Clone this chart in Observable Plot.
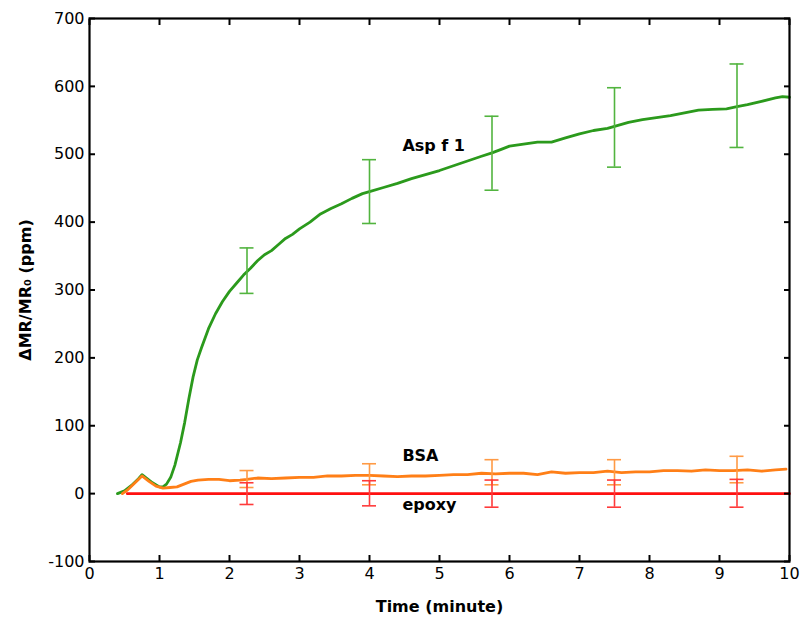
<!DOCTYPE html>
<html>
<head>
<meta charset="utf-8">
<script src="https://cdn.jsdelivr.net/npm/d3@7"></script>
<script src="https://cdn.jsdelivr.net/npm/@observablehq/plot@0.6"></script>
<style>
  html, body { margin: 0; padding: 0; background: #fff; }
  #chart svg { display: block; }
  g[aria-label="x-axis label"] text, g[aria-label="y-axis label"] text { font-weight: bold; }
</style>
</head>
<body>
<div id="chart"></div>
<script>
// Asp f 1 (green)
const aspT = [0.40,0.50,0.60,0.70,0.75,0.80,0.90,1.00,1.05,1.10,1.16,1.22,1.30,1.36,1.42,1.48,1.54,1.60,1.70,1.80,1.90,2.00,2.10,2.20,2.30,2.40,2.50,2.60,2.70,2.80,2.90,3.00,3.15,3.30,3.45,3.60,3.75,3.90,4.00,4.20,4.40,4.60,4.80,5.00,5.20,5.40,5.60,5.75,5.90,6.00,6.20,6.40,6.60,6.80,7.00,7.20,7.40,7.50,7.70,7.90,8.10,8.30,8.50,8.70,8.90,9.10,9.25,9.40,9.60,9.80,9.90,10.0];
const aspV = [0,4,12,22,28,24,16,10,10,14,24,42,75,105,140,172,197,215,243,265,283,298,310,322,332,343,352,358,367,376,382,390,400,412,420,427,435,442,445,451,457,464,470,476,483,490,497,502,508,512,515,518,518,524,530,535,538,541,547,551,554,557,561,565,566,567,570,573,578,583,585,584];
// BSA (orange)
const bsaT = [0.47,0.55,0.65,0.75,0.85,0.95,1.05,1.15,1.25,1.35,1.45,1.55,1.70,1.85,2.00,2.15,2.25,2.40,2.60,2.80,3.00,3.20,3.40,3.60,3.80,4.00,4.20,4.40,4.60,4.80,5.00,5.20,5.40,5.60,5.80,6.00,6.20,6.40,6.60,6.80,7.00,7.20,7.40,7.60,7.80,8.00,8.20,8.40,8.60,8.80,9.00,9.20,9.40,9.60,9.80,9.95];
const bsaV = [0,6,16,26,18,11,8,9,10,14,18,20,21,21,19,20,21,23,22,23,24,24,26,26,27,27,26,25,26,26,27,28,28,30,29,30,30,28,32,30,31,31,33,31,32,32,34,34,33,35,34,34,35,33,35,36];
// epoxy (red)
const epoxyT = [0.54, 10];
const epoxyV = [0, 0];
// error bars
const errT = [2.25, 4, 5.75, 7.5, 9.25];
const aspLo = [295, 398, 447, 481, 510];
const aspHi = [362, 492, 556, 598, 633];
const bsaLo = [9, 13, 13, 13, 16];
const bsaHi = [34, 44, 50, 50, 55];
const epoxyLo = [-16, -18, -20, -20, -20];
const epoxyHi = [16, 19, 20, 20, 21];
// labels
const labelNames = ["Asp f 1", "BSA", "epoxy"];
const labelT = [4.47, 4.47, 4.47];
const labelV = [512, 56, -17];
const xTicks = [0,1,2,3,4,5,6,7,8,9,10];
const yTicks = [-100,0,100,200,300,400,500,600,700];

const GREEN = "#2b9a1c", ORANGE = "#ff7f17", RED = "#ff1010";
const GREEN_E = "#52b43f", ORANGE_E = "#ff9a45", RED_E = "#ff3a3a";

const asp = aspT.map((t, i) => ({t, v: aspV[i]}));
const bsa = bsaT.map((t, i) => ({t, v: bsaV[i]}));
const epoxy = epoxyT.map((t, i) => ({t, v: epoxyV[i]}));
function errs(lo, hi) { return errT.map((t, i) => ({t, lo: lo[i], hi: hi[i]})); }
const errSets = [[errs(aspLo, aspHi), GREEN_E], [errs(bsaLo, bsaHi), ORANGE_E], [errs(epoxyLo, epoxyHi), RED_E]];
const labels = labelNames.map((name, i) => ({name, t: labelT[i], v: labelV[i]}));

const errMarks = [];
for (const [data, color] of errSets) {
  errMarks.push(Plot.ruleX(data, {x: "t", y1: "lo", y2: "hi", stroke: color, strokeWidth: 1.6}));
  errMarks.push(Plot.ruleY(data, {y: "lo", x1: "t", x2: "t", insetLeft: -7, insetRight: -7, stroke: color, strokeWidth: 1.6}));
  errMarks.push(Plot.ruleY(data, {y: "hi", x1: "t", x2: "t", insetLeft: -7, insetRight: -7, stroke: color, strokeWidth: 1.6}));
}

const chart = Plot.plot({
  width: 804,
  height: 627,
  marginLeft: 89,
  marginRight: 15,
  marginTop: 18,
  marginBottom: 66,
  style: {fontFamily: "'DejaVu Sans', Verdana, sans-serif", fontSize: "16px", color: "#000", background: "#fff"},
  x: {domain: [0, 10]},
  y: {domain: [-100, 700]},
  marks: [
    Plot.line(asp, {x: "t", y: "v", stroke: GREEN, strokeWidth: 2.8}),
    Plot.line(bsa, {x: "t", y: "v", stroke: ORANGE, strokeWidth: 2.8}),
    Plot.line(epoxy, {x: "t", y: "v", stroke: RED, strokeWidth: 2.8}),
    ...errMarks,
    Plot.text(labels, {x: "t", y: "v", text: "name", textAnchor: "start", fontWeight: "bold", fontSize: 16, fill: "#000"}),
    Plot.axisX({anchor: "bottom", ticks: xTicks, tickSize: -6, tickPadding: 12, strokeWidth: 2, tickFormat: d => String(d), label: "Time (minute)", labelAnchor: "center", labelArrow: "none", labelOffset: 50}),
    Plot.axisX({anchor: "top", ticks: xTicks, tickSize: -6, strokeWidth: 2, tickFormat: () => "", label: null}),
    Plot.axisY({anchor: "left", ticks: yTicks, tickSize: -6, tickPadding: 11, strokeWidth: 2, tickFormat: d => String(d), label: "ΔMR/MR₀ (ppm)", labelAnchor: "center", labelArrow: "none", labelOffset: 70}),
    Plot.axisY({anchor: "right", ticks: yTicks, tickSize: -6, strokeWidth: 2, tickFormat: () => "", label: null}),
    Plot.frame({stroke: "#000", strokeWidth: 2.2})
  ]
});
document.getElementById("chart").appendChild(chart);
</script>
</body>
</html>
